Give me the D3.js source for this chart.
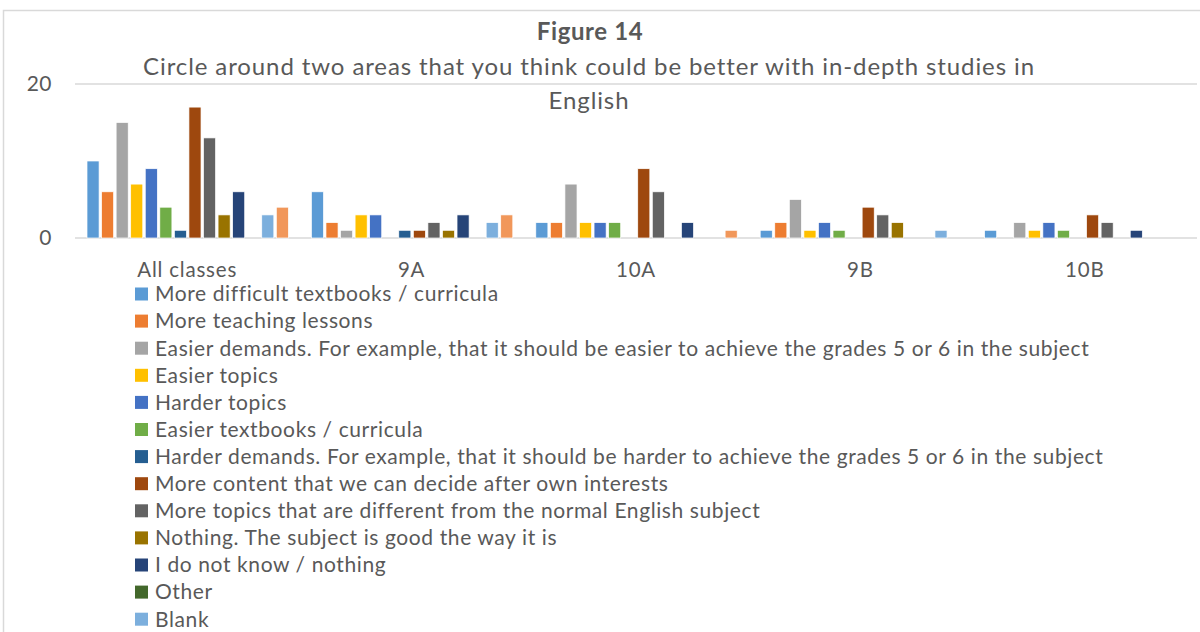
<!DOCTYPE html>
<html>
<head>
<meta charset="utf-8">
<script src="https://cdn.jsdelivr.net/npm/d3@7"></script>
<style>
  body { margin: 0; background: #fff; }
  svg { display: block; font-family: Lato, "Open Sans", sans-serif; }
</style>
</head>
<body>
<div id="chart"></div>
<script>
var categories = ["All classes", "9A", "10A", "9B", "10B"];

var seriesNames = [
    "More difficult textbooks / curricula",
    "More teaching lessons",
    "Easier demands. For example, that it should be easier to achieve the grades 5 or 6 in the subject",
    "Easier topics",
    "Harder topics",
    "Easier textbooks / curricula",
    "Harder demands. For example, that it should be harder to achieve the grades 5 or 6 in the subject",
    "More content that we can decide after own interests",
    "More topics that are different from the normal English subject",
    "Nothing. The subject is good the way it is",
    "I do not know / nothing",
    "Other",
    "Blank",
    "No answer"
];

var seriesColors = ["#5B9BD5", "#ED7D31", "#A5A5A5", "#FFC000", "#4472C4", "#70AD47",
    "#255E91", "#9E480E", "#636363", "#997300", "#264478", "#43682B", "#7CAFDD", "#F1975A"];

// one row per series, one value per category
var values = [
    [10, 6, 2, 1, 1],
    [6, 2, 2, 2, 0],
    [15, 1, 7, 5, 2],
    [7, 3, 2, 1, 1],
    [9, 3, 2, 2, 2],
    [4, 0, 2, 1, 1],
    [1, 1, 0, 0, 0],
    [17, 1, 9, 4, 3],
    [13, 2, 6, 3, 2],
    [3, 1, 0, 2, 0],
    [6, 3, 2, 0, 1],
    [0, 0, 0, 0, 0],
    [3, 2, 0, 1, 0],
    [4, 3, 1, 0, 0]
];

var yTicks = [0, 20];

var width = 1200, height = 632;
var textColor = "#595959";

var svg = d3.select("#chart").append("svg")
    .attr("width", width)
    .attr("height", height);

// chart frame
svg.append("rect")
    .attr("x", 3.5).attr("y", 10.5)
    .attr("width", width + 10).attr("height", height)
    .attr("fill", "none")
    .attr("stroke", "#d9d9d9")
    .attr("stroke-width", 1.5);

var x0 = d3.scaleBand()
    .domain(categories)
    .range([75, 1197]);

var x1 = d3.scaleBand()
    .domain(d3.range(seriesNames.length))
    .range([12, x0.bandwidth() - 11])
    .paddingInner(0.17);

var y = d3.scaleLinear()
    .domain([0, 20])
    .range([238, 84]);

// gridlines
svg.append("g").selectAll("line")
    .data(yTicks)
    .enter().append("line")
    .attr("x1", 75).attr("x2", 1197)
    .attr("y1", function (d) { return y(d); })
    .attr("y2", function (d) { return y(d); })
    .attr("stroke", "#d9d9d9")
    .attr("stroke-width", 1.5);

// y labels
svg.append("g").selectAll("text")
    .data(yTicks)
    .enter().append("text")
    .attr("x", 52)
    .attr("y", function (d) { return y(d); })
    .attr("dy", "0.35em")
    .attr("text-anchor", "end")
    .attr("fill", textColor)
    .style("font-size", "21px")
    .style("letter-spacing", "0.5px")
    .text(function (d) { return d; });

// bars
var groups = svg.append("g").selectAll("g")
    .data(categories)
    .enter().append("g")
    .attr("transform", function (d) { return "translate(" + x0(d) + ",0)"; });

groups.selectAll("rect")
    .data(function (c, ci) {
        return values.map(function (row, si) { return { s: si, v: row[ci] }; });
    })
    .enter().append("rect")
    .filter(function (d) { return d.v > 0; })
    .attr("x", function (d) { return x1(d.s); })
    .attr("y", function (d) { return y(d.v); })
    .attr("width", x1.bandwidth())
    .attr("height", function (d) { return y(0) - y(d.v); })
    .attr("fill", function (d) { return seriesColors[d.s]; })
    .attr("stroke", "#fff")
    .attr("stroke-width", 0.7);

// category labels
svg.append("g").selectAll("text")
    .data(categories)
    .enter().append("text")
    .attr("x", function (d) { return x0(d) + x0.bandwidth() / 2; })
    .attr("y", 277)
    .attr("text-anchor", "middle")
    .attr("fill", textColor)
    .style("font-size", "20.5px")
    .style("letter-spacing", "0.8px")
    .text(function (d) { return d; });

// titles
svg.append("text")
    .attr("x", 590).attr("y", 40)
    .attr("text-anchor", "middle")
    .attr("fill", textColor)
    .style("font-size", "24px")
    .style("font-weight", "bold")
    .style("letter-spacing", "0.6px")
    .text("Figure 14");

var subtitle = ["Circle around two areas that you think could be better with in-depth studies in", "English"];
svg.append("g").selectAll("text")
    .data(subtitle)
    .enter().append("text")
    .attr("x", 589)
    .attr("y", function (d, i) { return 75 + i * 34; })
    .attr("text-anchor", "middle")
    .attr("fill", textColor)
    .style("font-size", "24px")
    .style("letter-spacing", "0.9px")
    .text(function (d) { return d; });

// legend
var legend = svg.append("g").selectAll("g")
    .data(seriesNames)
    .enter().append("g")
    .attr("transform", function (d, i) { return "translate(135," + (294 + i * 27.1) + ")"; });

legend.append("rect")
    .attr("x", 0).attr("y", -6.5)
    .attr("width", 13).attr("height", 13)
    .attr("fill", function (d, i) { return seriesColors[i]; });

legend.append("text")
    .attr("x", 20)
    .attr("dy", "0.35em")
    .attr("fill", textColor)
    .style("font-size", "21px")
    .style("letter-spacing", "0.6px")
    .text(function (d) { return d; });
</script>
</body>
</html>
